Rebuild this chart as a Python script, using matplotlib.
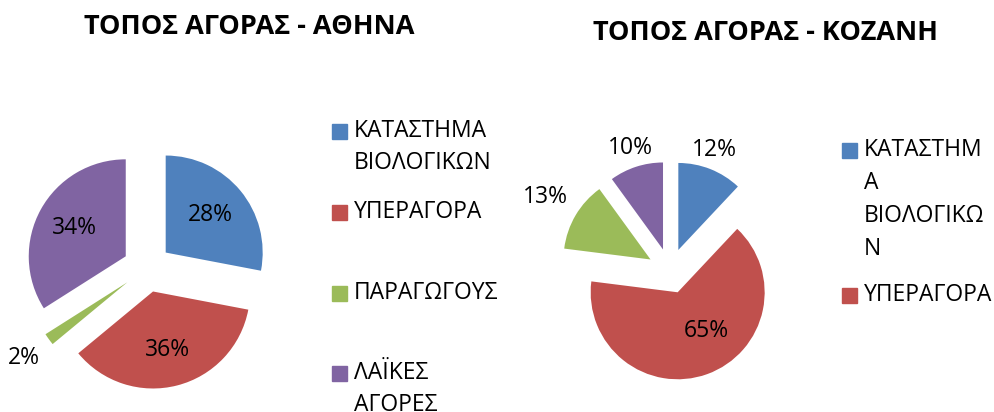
import numpy as np
import matplotlib
matplotlib.use('Agg')
import matplotlib.pyplot as plt

plt.rcParams['font.family'] = ['Open Sans', 'DejaVu Sans']

# data
titles = ['ΤΟΠΟΣ ΑΓΟΡΑΣ - ΑΘΗΝΑ', 'ΤΟΠΟΣ ΑΓΟΡΑΣ - ΚΟΖΑΝΗ']
athens = [28, 36, 2, 34]
kozani = [12, 65, 13, 10]
legend_athens = ['ΚΑΤΑΣΤΗΜΑ\nΒΙΟΛΟΓΙΚΩΝ', 'ΥΠΕΡΑΓΟΡΑ', 'ΠΑΡΑΓΩΓΟΥΣ', 'ΛΑΪΚΕΣ\nΑΓΟΡΕΣ']
legend_kozani = ['ΚΑΤΑΣΤΗΜ\nΑ\nΒΙΟΛΟΓΙΚΩ\nΝ', 'ΥΠΕΡΑΓΟΡΑ']
colors = ['#4F81BD', '#C0504D', '#9BBB59', '#8064A2']

W, H = 995, 412
fig = plt.figure(figsize=(W/100, H/100), dpi=100)

def px_axes(cx, cy, r, half=1.5):
    side = 2*half*r
    ax = fig.add_axes([(cx - side/2)/W, (H - cy - side/2)/H, side/W, side/H])
    return ax

def draw_pie(ax, vals, explode, dists, rot):
    wedges, texts, autos = ax.pie(vals, colors=colors, startangle=90, counterclock=False,
                                  explode=[explode]*len(vals), autopct=lambda p: '%.0f%%' % p,
                                  wedgeprops=dict(linewidth=0),
                                  textprops=dict(fontsize=16.5, color='#000000'))
    for w, t, d, a in zip(wedges, autos, dists, rot):
        mid = np.deg2rad((w.theta1 + w.theta2)/2 + a)
        cx, cy = w.center
        t.set_position((cx + d*w.r*np.cos(mid), cy + d*w.r*np.sin(mid)))
        t.set_clip_on(False)
    for w in wedges:
        w.set_clip_on(False)
    ax.set_xlim(-1.5, 1.5)
    ax.set_ylim(-1.5, 1.5)
    ax.set_aspect('equal')
    ax.axis('off')

ax1 = px_axes(147, 268, 97)
draw_pie(ax1, athens, 0.25, [0.6, 0.62, 1.32, 0.6], [0, 0, 0, 0])

ax2 = px_axes(670, 271, 87)
draw_pie(ax2, kozani, 0.26, [1.22, 0.55, 1.4, 1.23], [2, 17, 0, 0])

fig.text(249/W, 1 - 27/H, titles[0], ha='center', va='center', fontsize=19.5, fontweight='bold')
fig.text(766/W, 1 - 33/H, titles[1], ha='center', va='center', fontsize=19.5, fontweight='bold')

def draw_legend(labels, ys, mx, tx, step):
    for lab, y0, c in zip(labels, ys, colors):
        fig.patches.append(plt.Rectangle(((mx)/W, 1 - (y0 + 7.5)/H), 15/W, 15/H,
                                         transform=fig.transFigure, color=c, figure=fig))
        for k, line in enumerate(lab.split('\n')):
            fig.text(tx/W, 1 - (y0 + k*step)/H, line, ha='left', va='center', fontsize=16.5)

draw_legend(legend_athens, [131, 212, 293, 373], 332, 354, 32)
draw_legend(legend_kozani, [150, 295], 842, 864, 33)

fig.savefig('out.png', dpi=100)
